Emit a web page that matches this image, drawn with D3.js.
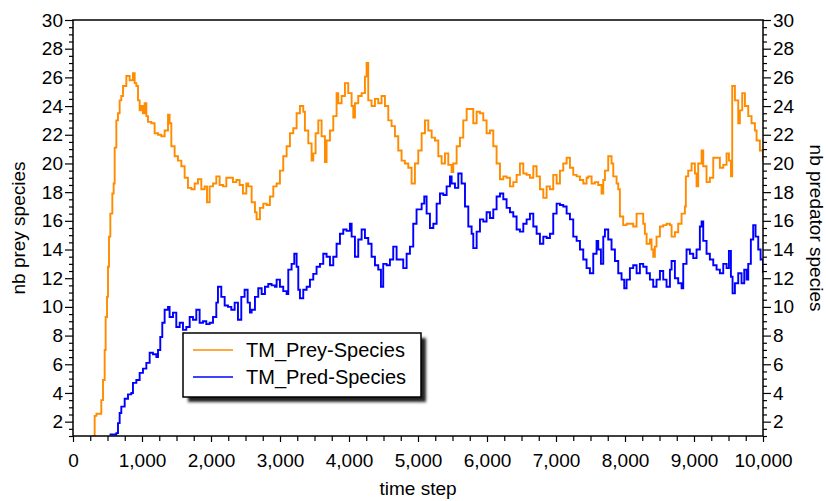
<!DOCTYPE html>
<html>
<head>
<meta charset="utf-8">
<script src="https://cdn.jsdelivr.net/npm/d3@7"></script>
<style>
  html, body { margin: 0; padding: 0; background: #fff; }
  svg text { font-family: "Liberation Sans", Arial, sans-serif; fill: #000; }
</style>
</head>
<body>
<svg id="chart" width="826" height="501"></svg>
<script>
// ---- data ----
const seriesNames = ['TM_Prey-Species', 'TM_Pred-Species'];
const xTicks = [0, 1000, 2000, 3000, 4000, 5000, 6000, 7000, 8000, 9000, 10000];
const yTicks = [2, 4, 6, 8, 10, 12, 14, 16, 18, 20, 22, 24, 26, 28, 30];

// [time step, nb species]
const preySeries = [
  [280,1],[314,2.4],[340,2.55],[386,2.55],[410,3.5],[435,4.9],[459,7.0],[473,9.3],[493,10.7],[507,12.8],
  [522,14.9],[541,16.5],[570,17.9],[589,18.6],[604,21.1],[628,23.0],[652,23.5],[676,24.4],[700,24.7],[725,25.4],
  [773,26.1],[821,25.8],[869,26.3],[894,25.6],[918,25.4],[942,24.4],[966,23.7],[990,24.0],[1014,23.5],[1038,24.2],
  [1063,23.3],[1087,22.9],[1135,22.8],[1183,22.1],[1232,22.0],[1280,21.9],[1328,22.3],[1377,23.4],[1400,22.8],[1425,21.2],
  [1473,20.5],[1521,20.2],[1570,19.8],[1618,19.0],[1666,18.3],[1715,18.2],[1763,18.6],[1811,18.9],[1860,18.2],[1908,18.4],
  [1942,17.3],[1980,18.4],[2029,18.6],[2077,19.1],[2125,18.5],[2174,18.4],[2222,19.0],[2270,19.0],[2318,18.7],[2367,18.85],
  [2415,18.5],[2463,17.9],[2512,18.6],[2540,18.4],[2589,17.3],[2637,16.6],[2661,16.1],[2709,16.9],[2758,17.2],[2806,17.1],
  [2854,17.7],[2903,18.4],[2951,18.6],[2999,19.5],[3047,20.5],[3096,21.2],[3144,22.1],[3192,22.45],[3241,23.5],[3289,24.0],
  [3337,23.6],[3361,22.3],[3410,21.4],[3458,20.2],[3482,20.7],[3516,22.1],[3555,23.0],[3603,21.9],[3651,20.1],[3675,21.6],
  [3724,22.3],[3772,23.3],[3820,24.9],[3844,24.2],[3893,24.7],[3941,25.6],[3989,24.9],[4038,24.0],[4062,23.2],[4086,24.2],
  [4134,24.7],[4183,24.9],[4231,26.05],[4255,27.0],[4279,24.4],[4327,24.0],[4376,24.5],[4424,24.2],[4472,24.7],[4521,24.0],
  [4569,23.0],[4617,22.6],[4666,21.9],[4714,20.9],[4762,20.2],[4810,20.0],[4859,19.7],[4907,18.6],[4955,20.0],[5004,20.9],
  [5053,22.1],[5101,23.0],[5149,22.3],[5198,21.8],[5246,21.6],[5294,20.5],[5342,20.0],[5391,20.7],[5439,19.9],[5487,19.4],
  [5511,20.0],[5560,21.2],[5608,21.8],[5656,23.0],[5705,23.8],[5753,23.8],[5801,22.8],[5850,23.6],[5898,23.5],[5946,23.0],
  [5994,22.1],[6043,22.3],[6091,21.2],[6139,20.0],[6188,18.9],[6236,19.1],[6284,19.0],[6333,18.4],[6381,18.7],[6429,19.2],
  [6477,20.0],[6526,19.3],[6574,19.2],[6622,19.0],[6671,19.8],[6719,19.1],[6767,18.2],[6816,17.6],[6864,18.4],[6912,18.2],
  [6960,19.2],[7009,18.6],[7057,19.5],[7105,20.0],[7154,20.4],[7202,19.7],[7250,19.2],[7299,19.1],[7347,18.85],[7395,18.6],
  [7443,19.0],[7467,19.1],[7516,18.6],[7564,18.7],[7612,18.5],[7660,17.9],[7685,18.85],[7709,19.5],[7757,20.5],[7805,20.0],
  [7830,19.1],[7878,18.6],[7902,18.2],[7926,16.3],[7974,15.7],[8023,15.8],[8071,15.8],[8119,15.6],[8168,16.5],[8216,16.5],
  [8264,15.8],[8288,15.1],[8313,14.4],[8361,14.7],[8385,14.0],[8409,13.5],[8433,14.2],[8457,14.9],[8506,15.6],[8554,15.7],
  [8602,15.8],[8651,15.7],[8675,14.9],[8723,15.2],[8771,15.8],[8820,16.5],[8868,17.0],[8882,19.1],[8916,19.5],[8965,20.0],
  [9013,19.3],[9037,18.4],[9061,20.0],[9110,20.9],[9134,19.8],[9182,18.7],[9230,19.0],[9279,20.4],[9327,20.4],[9375,19.7],
  [9424,19.9],[9472,20.7],[9506,20.2],[9535,19.1],[9554,25.4],[9593,24.4],[9641,22.8],[9665,23.7],[9699,24.9],[9738,24.0],
  [9786,23.3],[9834,22.8],[9883,22.3],[9907,21.6],[9955,20.9],[10000,20.1]
];

const predSeries = [
  [530,1.1],[628,1.2],[652,1.9],[676,2.6],[700,3.05],[749,3.6],[797,3.9],[845,4.0],[869,4.7],[918,4.9],
  [966,5.4],[1014,5.7],[1063,6.1],[1111,6.8],[1159,6.7],[1208,6.5],[1232,7.0],[1265,7.9],[1294,8.9],[1328,9.8],
  [1377,10.0],[1400,9.3],[1449,9.6],[1497,8.6],[1546,8.9],[1594,8.4],[1642,8.6],[1691,9.3],[1739,9.1],[1787,9.8],
  [1835,8.9],[1884,9.0],[1932,8.8],[1980,8.9],[2029,9.3],[2077,10.3],[2101,11.4],[2149,10.7],[2198,10.1],[2246,10.0],
  [2294,9.8],[2343,10.3],[2391,9.1],[2439,10.7],[2487,11.2],[2531,10.3],[2564,9.6],[2589,9.8],[2637,10.7],[2685,11.3],
  [2734,10.9],[2782,11.4],[2830,11.6],[2878,11.5],[2927,11.4],[2951,11.9],[2999,11.4],[3047,11.1],[3096,10.9],[3120,12.6],
  [3168,13.0],[3207,13.7],[3241,12.8],[3265,11.2],[3289,10.6],[3337,11.2],[3386,11.4],[3434,11.9],[3482,12.3],[3530,12.8],
  [3579,13.0],[3627,13.7],[3675,13.5],[3724,12.9],[3772,13.5],[3820,14.4],[3869,15.1],[3917,15.4],[3965,15.3],[4013,15.8],
  [4038,14.9],[4086,13.5],[4134,14.7],[4183,15.4],[4231,14.8],[4279,14.4],[4327,13.5],[4376,12.9],[4424,12.6],[4463,11.4],
  [4496,13.0],[4545,12.9],[4593,13.3],[4641,14.2],[4690,13.3],[4738,13.3],[4786,12.7],[4835,13.7],[4883,14.2],[4931,15.8],
  [4979,16.8],[5004,16.8],[5053,17.2],[5091,17.7],[5125,16.5],[5173,15.5],[5222,15.8],[5270,17.2],[5318,17.9],[5367,17.8],
  [5415,18.4],[5463,19.1],[5487,18.6],[5536,18.3],[5584,19.3],[5632,18.6],[5681,17.0],[5729,15.6],[5777,15.1],[5801,14.1],
  [5850,15.25],[5898,16.1],[5946,15.95],[5994,16.6],[6043,16.2],[6091,16.8],[6139,17.7],[6188,17.9],[6236,17.5],[6284,16.9],
  [6333,16.6],[6381,16.3],[6429,15.4],[6477,15.25],[6526,15.8],[6574,16.1],[6622,16.5],[6671,15.6],[6719,15.1],[6767,14.4],
  [6816,14.9],[6864,14.8],[6912,15.1],[6960,16.5],[7009,17.2],[7057,17.1],[7105,17.0],[7154,16.5],[7202,16.1],[7250,14.9],
  [7299,14.6],[7347,14.0],[7395,13.3],[7443,12.7],[7491,12.35],[7540,13.7],[7588,14.6],[7612,14.0],[7651,13.0],[7685,14.9],
  [7709,15.4],[7757,14.7],[7805,14.0],[7854,13.2],[7902,12.35],[7950,11.9],[7989,11.3],[8023,11.9],[8071,12.7],[8119,12.9],
  [8168,12.35],[8216,13.0],[8264,12.8],[8313,12.35],[8361,11.9],[8409,11.4],[8457,11.9],[8506,12.5],[8554,11.9],[8602,11.4],
  [8651,12.6],[8675,13.2],[8723,12.0],[8771,11.65],[8820,11.3],[8844,13.0],[8892,14.0],[8940,13.7],[8989,13.4],[9037,14.0],
  [9085,15.6],[9110,15.95],[9134,14.6],[9182,13.7],[9230,13.3],[9279,12.9],[9327,12.6],[9375,12.35],[9424,13.0],[9472,12.7],
  [9506,13.9],[9535,12.1],[9559,10.95],[9593,11.65],[9641,12.35],[9689,11.65],[9728,12.6],[9762,11.9],[9786,13.0],[9824,14.7],
  [9858,15.7],[9892,14.9],[9931,14.0],[9965,13.3],[10000,12.35]
];

// ---- layout ----
const W = 826, H = 501;
const M = { top: 20, right: 63, bottom: 65, left: 73 };
const iw = W - M.left - M.right;   // 690
const ih = H - M.top - M.bottom;   // 416
const colors = { prey: '#ff8c00', pred: '#0000ff' };

const svg = d3.select('#chart');
svg.append('rect').attr('width', W).attr('height', H).attr('fill', '#fff');

const g = svg.append('g').attr('transform', `translate(${M.left},${M.top})`);

const x = d3.scaleLinear().domain([0, 10000]).range([0, iw]);
const y = d3.scaleLinear().domain([1, 30]).range([ih, 0]);

// minor ticks
const yMinor = d3.range(1, 30.01, 0.5).filter(v => v % 2 !== 0);
const xMinor = d3.range(0, 10001, 250).filter(v => v % 1000 !== 0);

const tickFont = 19;

// left axis
g.append('g')
  .call(d3.axisLeft(y).tickValues(yMinor).tickSize(4).tickFormat('').tickSizeOuter(0))
  .call(a => a.select('.domain').remove());
g.append('g')
  .call(d3.axisLeft(y).tickValues(yTicks).tickSize(8).tickPadding(2).tickSizeOuter(0))
  .call(a => a.select('.domain').remove())
  .call(a => a.selectAll('text').attr('font-size', tickFont).attr('font-family', null));

// right axis
g.append('g').attr('transform', `translate(${iw},0)`)
  .call(d3.axisRight(y).tickValues(yMinor).tickSize(4).tickFormat('').tickSizeOuter(0))
  .call(a => a.select('.domain').remove());
g.append('g').attr('transform', `translate(${iw},0)`)
  .call(d3.axisRight(y).tickValues(yTicks).tickSize(8).tickPadding(2).tickSizeOuter(0))
  .call(a => a.select('.domain').remove())
  .call(a => a.selectAll('text').attr('font-size', tickFont).attr('font-family', null));

// bottom axis
g.append('g').attr('transform', `translate(0,${ih})`)
  .call(d3.axisBottom(x).tickValues(xMinor).tickSize(5).tickFormat('').tickSizeOuter(0))
  .call(a => a.select('.domain').remove());
g.append('g').attr('transform', `translate(0,${ih})`)
  .call(d3.axisBottom(x).tickValues(xTicks).tickSize(6).tickPadding(12).tickFormat(d3.format(',')).tickSizeOuter(0))
  .call(a => a.select('.domain').remove())
  .call(a => a.selectAll('text').attr('font-size', tickFont).attr('font-family', null));

g.selectAll('.tick line').attr('stroke', '#000').attr('stroke-width', 1.2);

// lines
svg.append('clipPath').attr('id', 'clip')
  .append('rect').attr('width', iw).attr('height', ih);

const line = d3.line()
  .x(d => x(d[0]))
  .y(d => y(d[1]))
  .curve(d3.curveStepAfter);

const plot = g.append('g').attr('clip-path', 'url(#clip)');
plot.append('path')
  .attr('fill', 'none').attr('stroke', colors.prey).attr('stroke-width', 1.9)
  .attr('d', line(preySeries));
plot.append('path')
  .attr('fill', 'none').attr('stroke', colors.pred).attr('stroke-width', 1.9)
  .attr('d', line(predSeries));

// frame
g.append('rect').attr('width', iw).attr('height', ih)
  .attr('fill', 'none').attr('stroke', '#000').attr('stroke-width', 1.5);

// axis titles
svg.append('text')
  .attr('transform', `translate(18,${M.top + ih / 2}) rotate(-90)`)
  .attr('text-anchor', 'middle').attr('dominant-baseline', 'central')
  .attr('font-size', 19).text('nb prey species');
svg.append('text')
  .attr('transform', `translate(816,${M.top + ih / 2}) rotate(90)`)
  .attr('text-anchor', 'middle').attr('dominant-baseline', 'central')
  .attr('font-size', 19).text('nb predator species');
svg.append('text')
  .attr('x', M.left + iw / 2).attr('y', 495)
  .attr('text-anchor', 'middle')
  .attr('font-size', 19).text('time step');

// legend
const defs = svg.append('defs');
defs.append('filter').attr('id', 'shadow')
  .append('feGaussianBlur').attr('stdDeviation', 1.5);

const lg = svg.append('g').attr('transform', 'translate(183,333)');
lg.append('rect').attr('x', 5).attr('y', 5).attr('width', 238).attr('height', 64)
  .attr('fill', '#222').attr('filter', 'url(#shadow)');
lg.append('rect').attr('width', 238).attr('height', 64)
  .attr('fill', '#fff').attr('stroke', '#000').attr('stroke-width', 1.5);

const legendRows = [
  { name: seriesNames[0], color: colors.prey },
  { name: seriesNames[1], color: colors.pred },
];
legendRows.forEach((r, i) => {
  const ry = 17 + i * 27;
  lg.append('line').attr('x1', 10).attr('x2', 50).attr('y1', ry).attr('y2', ry)
    .attr('stroke', r.color).attr('stroke-width', 1.5);
  lg.append('text').attr('x', 63).attr('y', ry).attr('dominant-baseline', 'central')
    .attr('font-size', 20).text(r.name);
});
</script>
</body>
</html>
